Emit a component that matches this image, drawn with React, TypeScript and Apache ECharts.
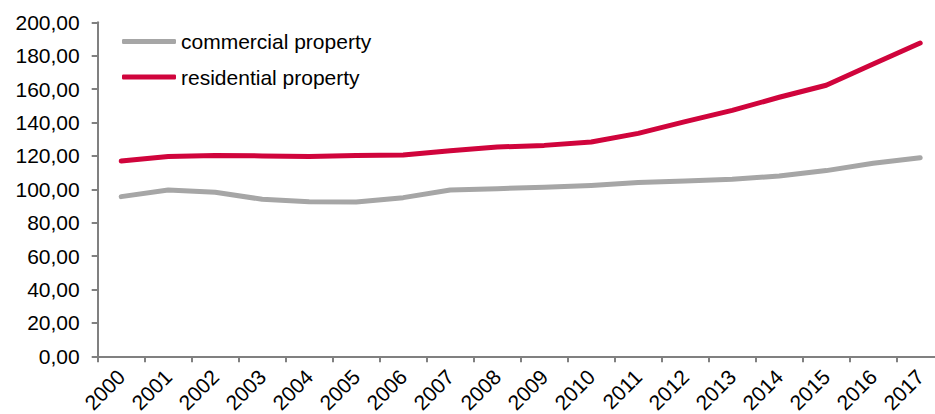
import React, { useEffect, useRef } from "react";
import * as echarts from "echarts";

const years = ["2000","2001","2002","2003","2004","2005","2006","2007","2008","2009","2010","2011","2012","2013","2014","2015","2016","2017"];
const commercial = [95.6, 99.6, 98.2, 94.0, 92.6, 92.4, 95.0, 99.6, 100.4, 101.2, 102.3, 104.0, 104.9, 106.0, 108.0, 111.2, 115.6, 118.9];
const residential = [116.9, 119.7, 120.3, 120.0, 119.7, 120.3, 120.6, 123.1, 125.3, 126.3, 128.3, 133.5, 140.5, 147.3, 155.1, 162.3, 175.0, 187.6];
const seriesNames = ["commercial property", "residential property"];
const colors = ["#a6a6a6", "#d0043c"];

const FONT = "'Liberation Sans', Arial, sans-serif";

export default function App() {
  const ref = useRef<HTMLDivElement>(null);
  useEffect(() => {
    document.body.style.margin = "0";
    if (!ref.current) return;
    const chart = echarts.init(ref.current, null, { renderer: "svg" });
    chart.setOption({
      animation: false,
      textStyle: { fontFamily: FONT },
      grid: {
        left: 97.7,
        top: 22.3,
        bottom: 57.7,
        right: -8.7,
        containLabel: false,
        outerBoundsMode: "none",
      },
      legend: {
        orient: "vertical",
        left: 117,
        top: 26,
        itemWidth: 54,
        itemHeight: 5,
        itemGap: 14.5,
        icon: "roundRect",
        textStyle: { fontSize: 21, color: "#000", fontFamily: FONT },
        data: seriesNames,
      },
      xAxis: {
        type: "category",
        data: years,
        boundaryGap: true,
        axisLine: { lineStyle: { color: "#808080", width: 2 } },
        axisTick: { show: true, length: 6, lineStyle: { color: "#808080", width: 2 } },
        axisLabel: {
          rotate: 45,
          fontSize: 21,
          color: "#000",
          margin: 17,
          fontFamily: FONT,
          interval: 0,
        },
      },
      yAxis: {
        type: "value",
        min: 0,
        max: 200,
        interval: 20,
        splitLine: { show: false },
        axisLine: { show: true, lineStyle: { color: "#808080", width: 2 } },
        axisTick: { show: true, length: 6, lineStyle: { color: "#808080", width: 2 } },
        axisLabel: {
          fontSize: 21,
          color: "#000",
          margin: 18,
          fontFamily: FONT,
          formatter: (v: number) => v.toFixed(2).replace(".", ","),
        },
      },
      series: [
        {
          name: seriesNames[0],
          type: "line",
          data: commercial,
          symbol: "none",
          color: colors[0],
          lineStyle: { width: 5, color: colors[0], cap: "round", join: "round" },
        },
        {
          name: seriesNames[1],
          type: "line",
          data: residential,
          symbol: "none",
          color: colors[1],
          lineStyle: { width: 5, color: colors[1], cap: "round", join: "round" },
        },
      ],
    });
    return () => chart.dispose();
  }, []);
  return <div ref={ref} style={{ width: 935, height: 414 }} />;
}
